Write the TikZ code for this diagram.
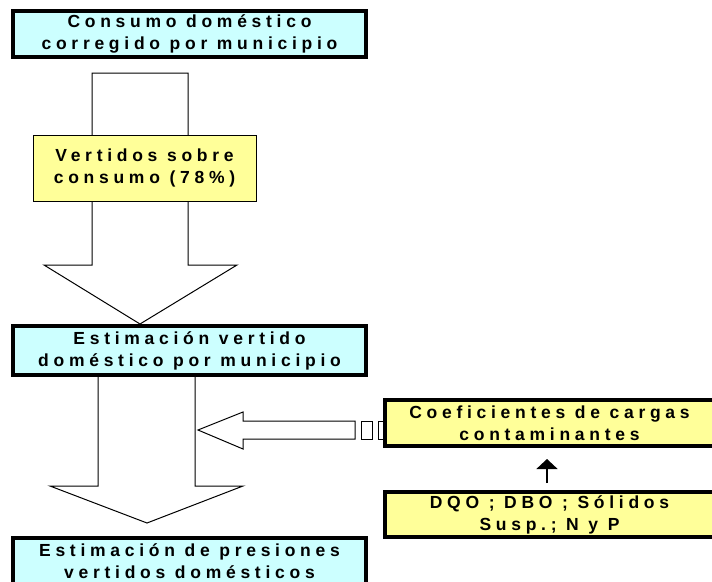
\documentclass[tikz,border=0pt]{standalone}
\usepackage{fontspec}
\setmainfont{Liberation Sans}[LetterSpace=27]
\usetikzlibrary{arrows.meta}

\definecolor{boxcyan}{HTML}{CCFFFF}
\definecolor{boxyellow}{HTML}{FFFF99}

\tikzset{
    boxtext/.style={align=center, inner sep=0pt, font=\bfseries\fontsize{17.5}{22}\selectfont},
    mainbox/.style={boxtext, draw=black, fill=boxcyan, line width=4pt, minimum width=353pt},
    sidebox/.style={boxtext, draw=black, fill=boxyellow, line width=4pt, minimum width=329pt},
    ratebox/.style={boxtext, draw=black, fill=boxyellow, line width=1pt, minimum width=223pt, minimum height=66pt},
    blockarrow/.style={draw=black, fill=white, line width=1pt, line join=miter}
}

\begin{document}
\begin{tikzpicture}[x=1pt, y=-1pt]
    \useasboundingbox (0,0) rectangle (712,581);

    % insert boxes
    \node[mainbox, minimum height=46pt] (consumo) at (189.5,34) {Consumo doméstico\\corregido por municipio};
    \node[mainbox, minimum height=49pt] (estvert) at (189.5,350.5) {Estimación vertido\\doméstico por municipio};
    \node[mainbox, minimum height=46pt] (presion) at (189.5,561) {Estimación de presiones\\vertidos domésticos};
    \node[sidebox, minimum height=45pt] (dqo) at (549.5,514.5) {DQO ; DBO ; Sólidos\\Susp.; N y P};

    % insert block arrows
    \draw[blockarrow] (92,73) -- (92,265) -- (44,265) -- (140,0 |- estvert.north)
        -- (237,265) -- (188,265) -- (188,73) -- cycle;
    \node[ratebox] (vertidos) at (144.5,168) {Vertidos sobre\\consumo (78\%)};
    \draw[blockarrow] (98,0 |- estvert.south) -- (98,486) -- (50,486) -- (147,523)
        -- (243,486) -- (195,486) -- (195,0 |- estvert.south);
    \draw[blockarrow] (198,430) -- (243,412) -- (243,421) -- (355,421) -- (355,439)
        -- (243,439) -- (243,449) -- cycle;
    \draw[blockarrow] (361,421) rectangle (372,439);
    \draw[blockarrow] (378,421) rectangle (388,439);
    \node[sidebox, minimum height=46pt] (coef) at (549.5,423) {Coeficientes de cargas\\contaminantes};

    % insert links
    \draw[line width=1.5pt, -{Triangle[width=21pt, length=10pt]}, shorten <=7pt, shorten >=11pt]
        (547,0 |- dqo.north) -- (547,0 |- coef.south);
\end{tikzpicture}
\end{document}
